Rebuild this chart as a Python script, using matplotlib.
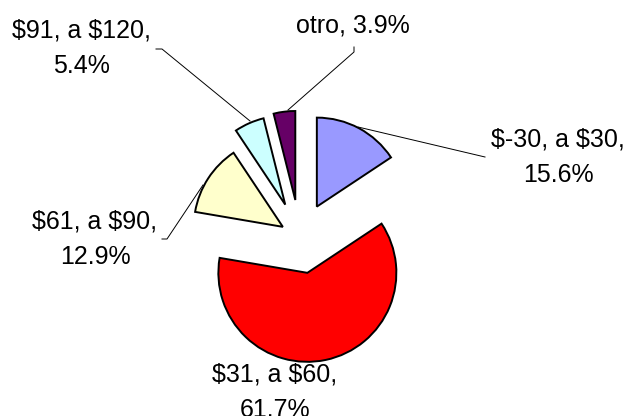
#!/usr/bin/env python3
"""
Exploded pie: distribution by price range, Excel-like styling.
Output: out.png (627x416)
"""
import matplotlib
matplotlib.use("Agg")
import matplotlib.pyplot as plt

plt.rcParams["font.family"] = ["Liberation Sans", "DejaVu Sans"]
plt.rcParams["text.parse_math"] = False   # labels contain '$'

# data (clockwise from 12 o'clock)
categories = ["$-30, a $30", "$31, a $60", "$61, a $90", "$91, a $120", "otro"]
percents = [15.6, 61.7, 12.9, 5.4, 3.9]

colors = ["#9999FF", "#FF0000", "#FFFFCC", "#CCFFFF", "#660066"]
explode = [0.40, 0.40, 0.23, 0.41, 0.43]

# layout is worked out in image pixels: pie centre and radius
W, H = 627, 416
CX, CY, R = 300, 238, 89

def px(x, y):
    return ((x - CX) / R, (CY - y) / R)

# label anchors (last-line baseline) and leader polylines, in pixels
label_pos = [(558, 182), (275, 417), (95, 264), (81, 73), (353, 33)]
leaders = [
    [(358, 127), (485, 157)],
    None,
    [(203, 185), (167, 239), (162, 239)],
    [(250, 121), (162, 49), (156, 49)],
    [(288, 110), (354, 52), (354, 47)],
]

fig = plt.figure(figsize=(W / 100, H / 100), dpi=100)
ax = fig.add_axes([0, 0, 1, 1])

ax.pie(percents, colors=colors, explode=explode, startangle=90,
       counterclock=False, radius=1,
       wedgeprops=dict(edgecolor="black", linewidth=1.4))

for cat, pct, (lx, ly), lead in zip(categories, percents, label_pos, leaders):
    if cat == "otro":
        txt = f"{cat}, {pct:.1f}%"
    else:
        txt = f"{cat},\n{pct:.1f}%"
    x, y = px(lx, ly)
    ax.text(x, y, txt, ha="center", va="baseline", multialignment="center",
            fontsize=18, linespacing=1.6, color="black")
    if lead:
        xs, ys = zip(*[px(a, b) for a, b in lead])
        ax.plot(xs, ys, color="black", lw=0.7)

x0, y0 = px(0, H)
x1, y1 = px(W, 0)
ax.set_xlim(x0, x1)
ax.set_ylim(y0, y1)
ax.set_aspect("auto")
ax.axis("off")

fig.savefig("out.png", dpi=100)
